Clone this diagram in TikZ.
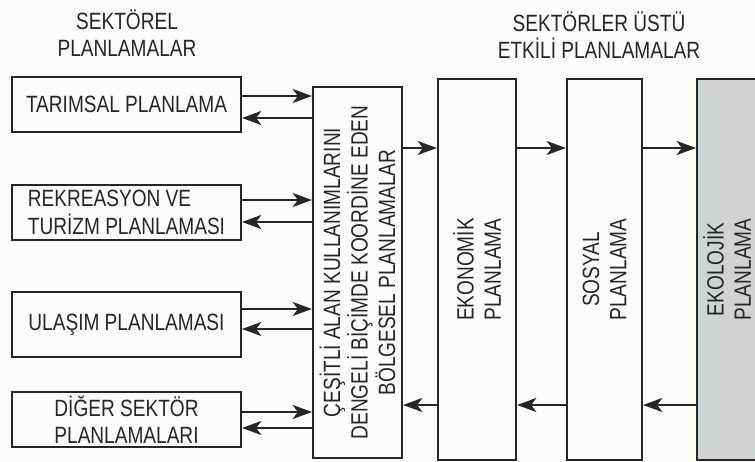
\documentclass[tikz,border=0pt]{standalone}
\usepackage{fontspec}
\setmainfont{Liberation Sans}[FakeStretch=0.81]
\usetikzlibrary{arrows.meta,calc}
\definecolor{Ink}{HTML}{262626}
\definecolor{Shade}{HTML}{CED3D3}
\definecolor{Paper}{HTML}{FDFDF8}
\newcommand{\planfont}{\fontsize{13.4}{15.6}\selectfont}

\begin{document}
\begin{tikzpicture}[x=0.02cm,y=-0.02cm,
    plan/.style={draw=Ink,line width=1.2pt,fill=Paper,inner sep=0pt,align=center,font=\planfont,text=Ink},
    side/.style={plan,minimum width=4.58cm,minimum height=1.1cm},
    tall/.style={plan,rotate=90,minimum width=7.62cm},
    flow/.style={draw=Ink,line width=1.2pt,-{Stealth[length=11pt,width=8pt,inset=3pt]}},
    heading/.style={align=center,font=\planfont,text=Ink}]
  \fill[Paper] (0,0) rectangle (755,462);
  \useasboundingbox (0,0) rectangle (755,462);
  % headings
  \node[heading] (sekt) at (127,33) {SEKTÖREL\\PLANLAMALAR};
  \node[heading] (ustu) at (599,35) {SEKTÖRLER ÜSTÜ\\ETKİLİ PLANLAMALAR};
  % sector boxes
  \node[side] (tar) at (126.5,104.5) {TARIMSAL PLANLAMA};
  \node[side,align=left] (rek) at (126.5,212.5) {REKREASYON VE\\TURİZM PLANLAMASI};
  \node[side,minimum height=1.3cm] (ula) at (126.5,324.5) {ULAŞIM PLANLAMASI};
  \node[side] (dig) at (126.5,419.5) {DİĞER SEKTÖR\\PLANLAMALARI};
  % tall boxes (rotated: north is on the left, south on the right)
  \node[tall,minimum width=7.42cm,minimum height=1.78cm] (kor) at (357.5,272.5)
    {ÇEŞİTLİ ALAN KULLANIMLARINI\\DENGELİ BİÇİMDE KOORDİNE EDEN\\BÖLGESEL PLANLAMALAR};
  \node[tall,minimum height=1.56cm] (ekn) at (477,269.5) {EKONOMİK\\PLANLAMA};
  \node[tall,minimum height=1.5cm] (sos) at (604.5,269.5) {SOSYAL\\PLANLAMA};
  \node[tall,minimum height=1.2cm,fill=Shade] (ekl) at (727,269.5) {EKOLOJİK\\PLANLAMA};
  % arrows
  \coordinate (hi) at (0,148);
  \coordinate (lo) at (0,405);
  \foreach \n/\a/\b in {tar/96/118,rek/200/222,ula/309/329,dig/412/428}{
    \draw[flow] (\n.east |- 0,\a) -- (kor.north |- 0,\a);
    \draw[flow] (kor.north |- 0,\b) -- (\n.east |- 0,\b);
  }
  \foreach \p/\q in {kor/ekn,ekn/sos,sos/ekl}{
    \draw[flow] (\p.south |- hi) -- (\q.north |- hi);
    \draw[flow] (\q.north |- lo) -- (\p.south |- lo);
  }
\end{tikzpicture}
\end{document}
